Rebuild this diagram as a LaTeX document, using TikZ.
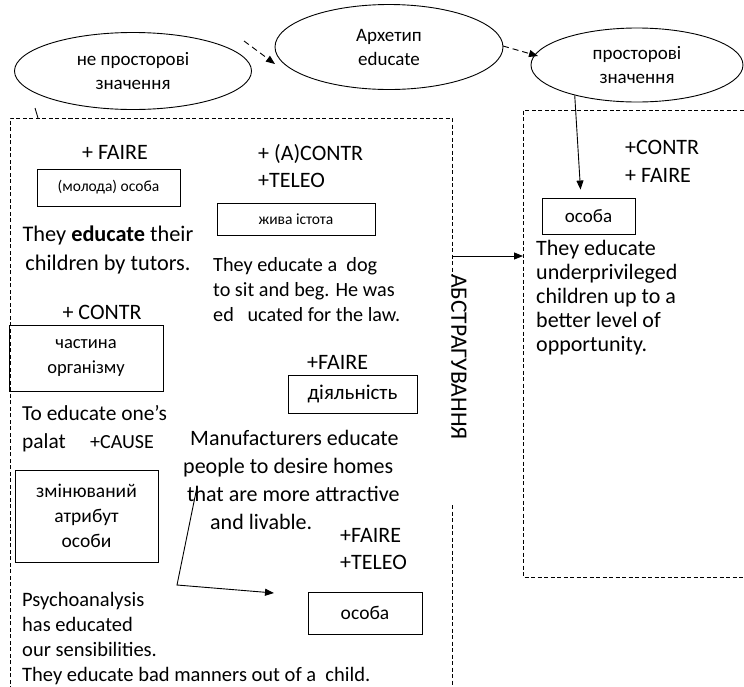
\documentclass[tikz,border=0pt]{standalone}
\usepackage{fontspec}
\setmainfont{Carlito}
\usetikzlibrary{positioning, arrows.meta, shapes.geometric, calc}

\begin{document}
\begin{tikzpicture}[
    x=1pt, y=-1pt,
    >={Triangle[length=9pt, width=7pt]},
    big_txt/.style   ={inner sep=0pt, font=\fontsize{22}{24}\selectfont},
    concept/.style   ={draw, line width=0.9pt, inner sep=0pt, align=center, font=\fontsize{#1}{25}\selectfont},
    concept/.default =18.5,
    sense_ell/.style ={ellipse, draw, line width=0.9pt, inner sep=0pt, align=center, font=\fontsize{19}{24}\selectfont},
    dash_frame/.style={dash pattern=on 4pt off 2.5pt, line width=0.8pt},
    dash_arrow/.style={->, dash pattern=on 6pt off 4pt, line width=0.9pt},
    solid_arrow/.style={->, line width=0.9pt}
]
\useasboundingbox (0,0) rectangle (744,686);

% Senses
\node[sense_ell, minimum width=237pt, minimum height=77pt] (ell_nonspatial) at (133,71) {не просторові\\значення};
\node[sense_ell, minimum width=228pt, minimum height=85pt] (ell_archetype) at (389,47) {Архетип\\educate};
\node[sense_ell, minimum width=212pt, minimum height=74pt] (ell_spatial) at (637,65) {просторові\\значення};

% Frames
\draw[dash_frame] (10,690) -- (10,118) -- (452,118) -- (452,276);
\draw[dash_frame] (452,505) -- (452,690);
\draw[dash_frame] (750,110) -- (523,110) -- (523,577) -- (750,577);
\node[big_txt, rotate=-90, font=\fontsize{23.5}{24}\selectfont] (abstr) at (459,357) {АБСТРАГУВАННЯ};

% Non-spatial: person
\node[big_txt, anchor=base] (sem_faire_a) at (115,159) {+ FAIRE};
\node[concept=15.5, minimum width=143pt, minimum height=37pt] (box_young) at (108.5,187.5) {(молода) особа};
\node[big_txt, anchor=base, align=center, font=\fontsize{22.3}{29}\selectfont] (ex_tutors) at (108,270)
    {They \textbf{educate} their\\children by tutors.};

% Non-spatial: living being
\node[big_txt, anchor=base west, align=left, font=\fontsize{22}{27}\selectfont] (sem_contr_a) at (258,187) {+ (A)CONTR\\+TELEO};
\node[concept=15.5, minimum width=158pt, minimum height=32pt] (box_living) at (296,219) {жива істота};
\node[big_txt, anchor=base west, align=left, font=\fontsize{20.2}{25}\selectfont] (ex_dog) at (213,321)
    {They educate a\ \ dog\\to sit and beg. He was\\ed\ \ \ ucated for the law.};

% Non-spatial: body part
\node[big_txt, anchor=base] (sem_contr_b) at (102,319) {+ CONTR};
\node[concept=18.5, minimum width=154pt, minimum height=66pt] (box_organ) at (86,358) {частина\\організму};
\node[big_txt, anchor=base west, align=left, font=\fontsize{21.4}{28}\selectfont] (ex_palate) at (22,448) {To educate one’s\\palat};
\node[big_txt, anchor=base west, font=\fontsize{20}{24}\selectfont] (sem_cause) at (90,448) {+CAUSE};

% Non-spatial: attribute
\node[concept=19.5, minimum width=143pt, minimum height=92pt] (box_attr) at (86.5,516) {змінюваний\\атрибут\\особи};
\node[big_txt, anchor=base west, align=left, font=\fontsize{20.5}{25}\selectfont] (ex_psycho) at (22,681)
    {Psychoanalysis\\has educated\\our sensibilities.\\They educate bad manners out of a\ \ child.};

% Non-spatial: activity
\node[big_txt, anchor=base west] (sem_faire_b) at (307,369) {+FAIRE};
\node[concept=21, minimum width=129pt, minimum height=38pt] (box_activity) at (352.5,394) {діяльність};
\node[big_txt, anchor=base west, align=left, font=\fontsize{22}{28}\selectfont] (ex_homes) at (183,529)
    {\hspace*{7pt}Manufacturers educate\\people to desire homes\\\hspace*{4pt}that are more attractive\\\hspace*{27pt}and livable.};

% Non-spatial: person (lower)
\node[big_txt, anchor=base west, align=left, font=\fontsize{22}{27}\selectfont] (sem_faire_c) at (340,569) {+FAIRE\\+TELEO};
\node[concept=19.5, minimum width=114pt, minimum height=42pt] (box_person_l) at (365,613) {особа};

% Spatial: person
\node[big_txt, anchor=base west, align=left, font=\fontsize{22}{28}\selectfont] (sem_contr_c) at (625,182) {+CONTR\\+ FAIRE};
\node[concept=19, minimum width=93pt, minimum height=36pt] (box_person_r) at (588.5,216) {особа};
\node[big_txt, anchor=base west, align=left] (ex_underpriv) at (536,351)
    {They educate\\underprivileged\\children up to a\\better level of\\opportunity.};

% Connectors
\coordinate (na_out) at (244,41);
\coordinate (arch_in) at (275,64);
\coordinate (arch_out) at (503,46);
\coordinate (sp_in) at (538,56);
\draw[dash_arrow] (na_out) -- (arch_in);
\draw[dash_arrow] (arch_out) -- (sp_in);
\draw[solid_arrow] (ell_spatial.206) -- ([xshift=-8pt, yshift=8pt]box_person_r.north);

\coordinate (na_foot) at (35,108);
\coordinate (lf_tick) at (38,118);
\draw[line width=0.9pt] (na_foot) -- (lf_tick);

\coordinate (lf_exit) at (452,256);
\coordinate (rf_entry) at (523,256);
\draw[solid_arrow] (lf_exit) -- (rf_entry);

\coordinate (cause_src) at (197,487);
\coordinate (cause_bend) at (177,585);
\coordinate (cause_dst) at (274,593);
\draw[solid_arrow] (cause_src) -- (cause_bend) -- (cause_dst);

\end{tikzpicture}
\end{document}
